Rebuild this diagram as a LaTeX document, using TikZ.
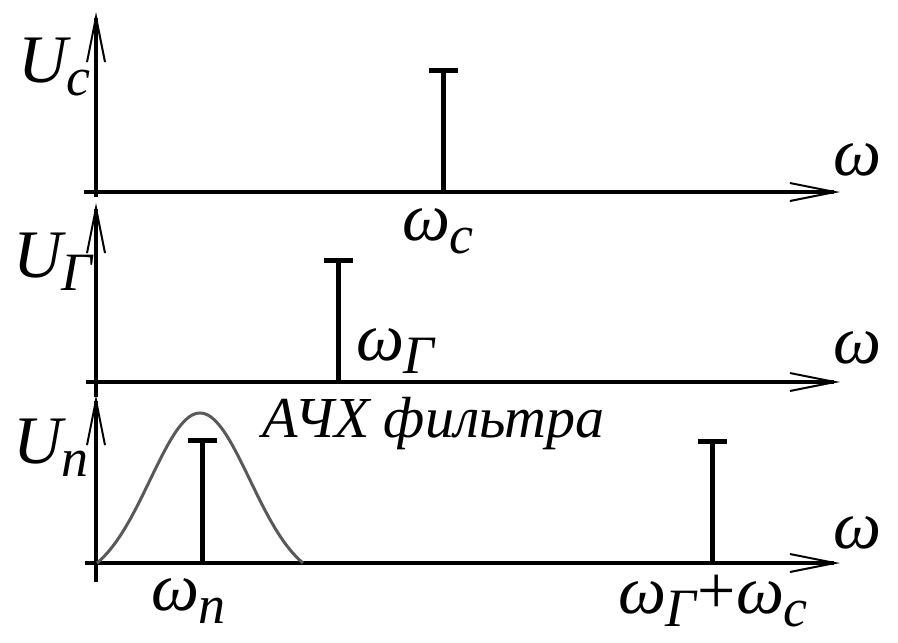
\documentclass[tikz,border=0pt]{standalone}
\usepackage{fontspec}
\setmainfont{Liberation Serif}
\usetikzlibrary{arrows.meta}
\newcommand{\sbs}[1]{\kern-1pt\raisebox{-13pt}{\fontsize{54}{54}\selectfont #1}}

\begin{document}
\begin{tikzpicture}[x = 1pt, y = -1pt,
		axis_line/.style = {line width = 4.5pt, -{Straight Barb[length = 45pt, width = 18pt, line width = 2pt]}},
		spike_line/.style = {line width = 5pt},
		filter_line/.style = {line width = 3pt, draw = black!65},
		big_label/.style = {anchor = base west, inner sep = 0pt, font = \fontsize{68}{68}\selectfont\itshape},
		note_label/.style = {anchor = base west, inner sep = 0pt, font = \fontsize{58}{58}\selectfont\itshape},
		]
		\useasboundingbox (0,0) rectangle (898,643);
		
		%a
		\coordinate (ya0) at (96,197);
		\coordinate (ya1) at (96,12);
		\coordinate (xa0) at (84,192);
		\coordinate (xa1) at (840,192);
		\coordinate (sa0) at (443,192);
		\coordinate (sa1) at (443,70);
		\draw[axis_line] (ya0) to (ya1);
		\draw[axis_line] (xa0) to (xa1);
		\draw[spike_line] (sa0) to (sa1);
		\draw[spike_line] ([xshift = -14.5pt]sa1) to ([xshift = 14.5pt]sa1);
		\node[big_label](Ua) at (18,82){U\sbs{c}};
		\node[big_label](wa) at (833,175){ω};
		\node[big_label](wca) at (402,240){ω\sbs{c}};
		
		%b
		\coordinate (yb0) at (96,397);
		\coordinate (yb1) at (96,203);
		\coordinate (xb0) at (86,382);
		\coordinate (xb1) at (840,382);
		\coordinate (sb0) at (338,382);
		\coordinate (sb1) at (338,260);
		\draw[axis_line] (yb0) to (yb1);
		\draw[axis_line] (xb0) to (xb1);
		\draw[spike_line] (sb0) to (sb1);
		\draw[spike_line] ([xshift = -14.5pt]sb1) to ([xshift = 14.5pt]sb1);
		\node[big_label](Ub) at (13,277){U\sbs{Γ}};
		\node[big_label](wb) at (833,363){ω};
		\node[big_label](wgb) at (356,360){ω\sbs{Γ}};
		
		%c
		\coordinate (yc0) at (96,582);
		\coordinate (yc1) at (96,395);
		\coordinate (xc0) at (85,563);
		\coordinate (xc1) at (840,563);
		\coordinate (sc0) at (202,563);
		\coordinate (sc1) at (202,440);
		\coordinate (sd0) at (712,563);
		\coordinate (sd1) at (712,441);
		\draw[axis_line] (yc0) to (yc1);
		\draw[axis_line] (xc0) to (xc1);
		\draw[filter_line] plot[domain = -103:103, samples = 70, smooth] ({200+\x},{563-150*(exp(-(\x)^2/5000)-0.12)/0.88});
		\draw[spike_line] (sc0) to (sc1);
		\draw[spike_line] ([xshift = -14.5pt]sc1) to ([xshift = 14.5pt]sc1);
		\draw[spike_line] (sd0) to (sd1);
		\draw[spike_line] ([xshift = -14.5pt]sd1) to ([xshift = 14.5pt]sd1);
		\node[big_label](Uc) at (13,463){U\sbs{n}};
		\node[big_label](wc) at (833,548){ω};
		\node[big_label](wnc) at (151,610){ω\sbs{n}};
		\node[big_label](wsum) at (618,613){ω\sbs{Γ}\kern2pt{\upshape+}ω\sbs{c}};
		\node[note_label](afc) at (262,437){АЧХ фильтра};

\end{tikzpicture}
\end{document}
